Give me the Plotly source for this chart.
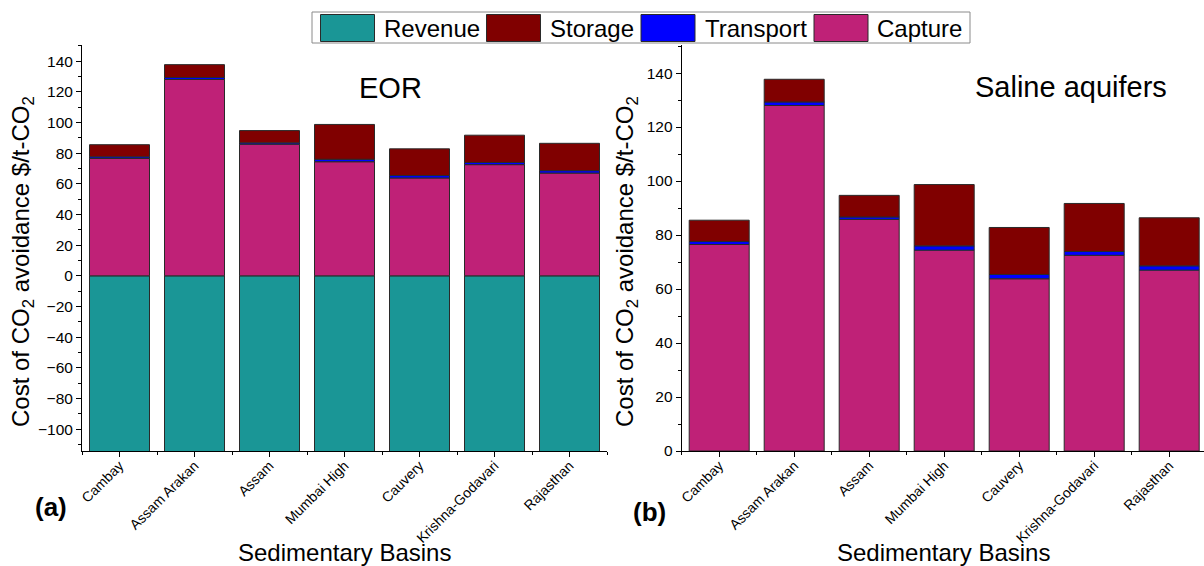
import plotly.graph_objects as go

# Sedimentary basins and cost components ($/t-CO2)
basins = ["Cambay", "Assam Arakan", "Assam", "Mumbai High", "Cauvery",
          "Krishna-Godavari", "Rajasthan"]
capture = [76.5, 128.0, 85.8, 74.4, 63.8, 72.5, 67.0]
transport = [1.1, 1.3, 0.9, 1.6, 1.6, 1.4, 1.6]
storage = [7.9, 8.4, 8.0, 22.7, 17.4, 17.8, 17.8]
eor_revenue = [-116, -116, -116, -116, -116, -116, -116]

series_names = ["Revenue", "Storage", "Transport", "Capture"]
colors = {"Revenue": "#1A9696", "Storage": "#800000",
          "Transport": "#0000FF", "Capture": "#BF2177"}

W, H = 1204, 566
ML, MR, MT, MB = 82, 0, 45, 115
PW, PH = W - ML - MR, H - MT - MB
FONT = "Liberation Sans, Arial, sans-serif"


def px(x):
    return (x - ML) / PW


def py(y):
    return (H - MB - y) / PH


xs = list(range(len(basins)))
outline = dict(color="#2a2a2a", width=1)

fig = go.Figure()


def add_stack(xa, ya, with_revenue):
    if with_revenue:
        fig.add_bar(x=xs, y=eor_revenue, name="Revenue", xaxis=xa, yaxis=ya,
                    marker=dict(color=colors["Revenue"], line=outline),
                    width=0.8, showlegend=False)
    fig.add_bar(x=xs, y=capture, name="Capture", xaxis=xa, yaxis=ya,
                marker=dict(color=colors["Capture"], line=outline),
                width=0.8, showlegend=False)
    fig.add_bar(x=xs, y=transport, name="Transport", xaxis=xa, yaxis=ya,
                marker=dict(color=colors["Transport"], line=outline),
                width=0.8, showlegend=False)
    fig.add_bar(x=xs, y=storage, name="Storage", xaxis=xa, yaxis=ya,
                marker=dict(color=colors["Storage"], line=outline),
                width=0.8, showlegend=False)


add_stack("x", "y", True)
add_stack("x2", "y2", False)

xcommon = dict(
    tickmode="array", tickvals=xs, ticktext=basins, tickangle=-45,
    tickfont=dict(family=FONT, size=14, color="black"),
    ticklabelstandoff=-5,
    showline=True, linecolor="black", linewidth=1,
    ticks="outside", ticklen=5, tickcolor="black",
    minor=dict(tickvals=[i - 0.5 for i in range(len(basins) + 1)],
               ticks="outside", ticklen=3, tickcolor="black"),
    showgrid=False, zeroline=False, fixedrange=True,
)
ycommon = dict(
    tickfont=dict(family=FONT, size=15.5, color="black"),
    showline=True, linecolor="black", linewidth=1,
    ticks="outside", ticklen=5, tickcolor="black",
    minor=dict(dtick=10, ticks="outside", ticklen=3, tickcolor="black"),
    showgrid=False, zeroline=False, dtick=20,
)

fig.update_layout(
    width=W, height=H,
    margin=dict(l=ML, r=MR, t=MT, b=MB, autoexpand=False),
    paper_bgcolor="white", plot_bgcolor="white",
    barmode="relative", bargap=0.2,
    showlegend=False,
    xaxis=dict(domain=[0, px(607)], range=[-0.5, 6.5], anchor="y", **xcommon),
    yaxis=dict(range=[-114.2, 150.5], anchor="x", **ycommon),
    xaxis2=dict(domain=[px(681.7), 1], range=[-0.5, 6.464], anchor="y2", **xcommon),
    yaxis2=dict(range=[0, 150.4], anchor="x2", **ycommon),
)

ann = []
ytitle = "Cost of CO<sub>2</sub> avoidance $/t-CO<sub>2</sub>"
for cx in (22, 626):
    ann.append(dict(x=px(cx), y=py(262), xref="paper", yref="paper",
                    text=ytitle, textangle=-90, showarrow=False,
                    font=dict(family=FONT, size=24, color="black"),
                    xanchor="center", yanchor="middle"))
for cx in (344, 943):
    ann.append(dict(x=px(cx), y=py(552), xref="paper", yref="paper",
                    text="Sedimentary Basins", showarrow=False,
                    font=dict(family=FONT, size=24, color="black"),
                    xanchor="center", yanchor="middle"))
ann.append(dict(x=px(390), y=py(88), xref="paper", yref="paper", text="EOR",
                showarrow=False, font=dict(family=FONT, size=29, color="black"),
                xanchor="center", yanchor="middle"))
ann.append(dict(x=px(1071), y=py(87), xref="paper", yref="paper",
                text="Saline aquifers", showarrow=False,
                font=dict(family=FONT, size=29, color="black"),
                xanchor="center", yanchor="middle"))
ann.append(dict(x=px(51), y=py(507), xref="paper", yref="paper", text="<b>(a)</b>",
                showarrow=False, font=dict(family=FONT, size=26, color="black"),
                xanchor="center", yanchor="middle"))
ann.append(dict(x=px(649), y=py(512), xref="paper", yref="paper", text="<b>(b)</b>",
                showarrow=False, font=dict(family=FONT, size=26, color="black"),
                xanchor="center", yanchor="middle"))

# Legend drawn as a boxed row of large swatches
shapes = [dict(type="rect", xref="paper", yref="paper",
               x0=px(312), x1=px(970), y0=py(43), y1=py(12),
               line=dict(color="#8a8a8a", width=1), fillcolor="white")]
swatch_x = [320.5, 486.5, 641, 814]
label_x = [381.5, 548, 702.5, 874.5]
for name, sx, lx in zip(series_names, swatch_x, label_x):
    shapes.append(dict(type="rect", xref="paper", yref="paper",
                       x0=px(sx), x1=px(sx + 54), y0=py(41.5), y1=py(14.5),
                       line=dict(color="#2a2a2a", width=1),
                       fillcolor=colors[name]))
    ann.append(dict(x=px(lx), y=py(28), xref="paper", yref="paper", text=name,
                    showarrow=False, xanchor="left", yanchor="middle",
                    font=dict(family=FONT, size=24, color="black")))

fig.update_layout(annotations=ann, shapes=shapes)

fig.write_html("out.html")
